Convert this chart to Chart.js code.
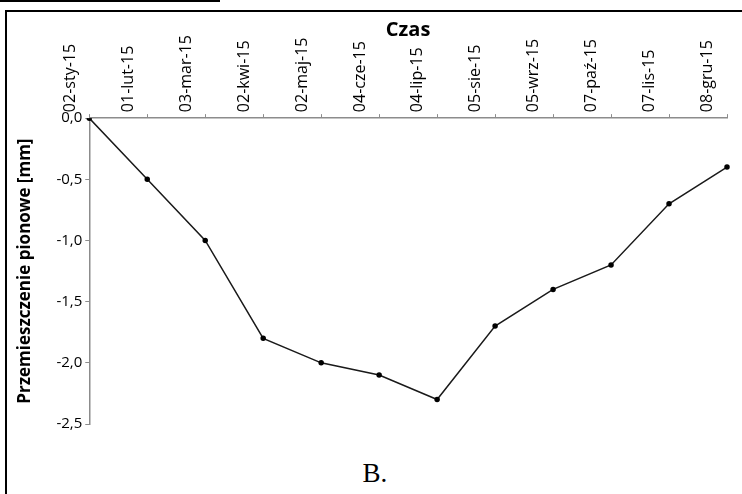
<!DOCTYPE html>
<html>
<head>
<meta charset="utf-8">
<script src="https://cdn.jsdelivr.net/npm/chart.js@4.4.1/dist/chart.umd.min.js"></script>
<style>
    html, body { margin: 0; padding: 0; background: #fff; }
    body { width: 742px; height: 494px; position: relative; overflow: hidden; }
    .line-top { position: absolute; left: 0; top: 0; width: 220px; height: 2px; background: #000; }
    .line-box { position: absolute; left: 5px; top: 10px; width: 737px; height: 2px; background: #000; }
    .line-left { position: absolute; left: 5px; top: 10px; width: 2px; height: 484px; background: #000; }
    .wrap { position: absolute; left: 8px; top: 20px; width: 734px; height: 416px; }
    .caption { position: absolute; left: 0; width: 750px; top: 458px; text-align: center;
               font-family: 'Liberation Serif', 'DejaVu Serif', serif; font-size: 27px; color: #000; }
</style>
</head>
<body>
<div class="line-top"></div>
<div class="line-box"></div>
<div class="line-left"></div>
<div class="wrap"><canvas id="chart" width="734" height="416"></canvas></div>
<div class="caption">B.</div>

<script>
    // daty pomiarów i przemieszczenia
    const dates = ['02-sty-15', '01-lut-15', '03-mar-15', '02-kwi-15', '02-maj-15', '04-cze-15',
                   '04-lip-15', '05-sie-15', '05-wrz-15', '07-paź-15', '07-lis-15', '08-gru-15'];
    const displacement = [0.0, -0.5, -1.0, -1.8, -2.0, -2.1, -2.3, -1.7, -1.4, -1.2, -0.7, -0.4];
    const yMin = -2.5;
    const yMax = 0;
    const yStep = 0.5;

    var ctx = document.getElementById('chart').getContext('2d');

    new Chart(ctx, {
        type: 'line',
        data: {
            labels: dates,
            datasets: [{
                data: displacement,
                borderColor: '#1a1a1a',
                borderWidth: 1.5,
                pointRadius: 2,
                pointBackgroundColor: '#000',
                pointBorderColor: '#000',
                tension: 0
            }]
        },
        options: {
            responsive: false,
            maintainAspectRatio: false,
            animation: false,
            layout: {
                padding: { left: 7, right: 15, top: 0, bottom: 0 }
            },
            plugins: {
                legend: { display: false },
                tooltip: { enabled: false }
            },
            scales: {
                x: {
                    position: 'top',
                    offset: false,
                    grid: {
                        drawOnChartArea: false,
                        drawTicks: true,
                        tickLength: 4,
                        color: '#8c8c8c'
                    },
                    border: { color: '#8c8c8c', width: 1.5 },
                    ticks: {
                        minRotation: 90,
                        maxRotation: 90,
                        autoSkip: false,
                        padding: 2,
                        color: '#000',
                        font: { family: 'Open Sans', size: 16 }
                    },
                    title: {
                        display: true,
                        text: 'Czas',
                        color: '#000',
                        padding: { top: 0, bottom: -7 },
                        font: { family: 'Open Sans', size: 20, weight: 'bold', lineHeight: 1 }
                    }
                },
                y: {
                    min: yMin,
                    max: yMax,
                    grid: {
                        drawOnChartArea: false,
                        drawTicks: true,
                        tickLength: 4,
                        color: '#8c8c8c'
                    },
                    border: { color: '#8c8c8c', width: 1.5 },
                    ticks: {
                        stepSize: yStep,
                        padding: 3,
                        color: '#000',
                        font: { family: 'Open Sans', size: 15 },
                        callback: function (value) {
                            return value.toFixed(1).replace('.', ',');
                        }
                    },
                    title: {
                        display: true,
                        text: 'Przemieszczenie pionowe [mm]',
                        color: '#000',
                        padding: { top: 0, bottom: 18 },
                        font: { family: 'Open Sans', size: 17, weight: 'bold' }
                    }
                }
            }
        }
    });
</script>
</body>
</html>
